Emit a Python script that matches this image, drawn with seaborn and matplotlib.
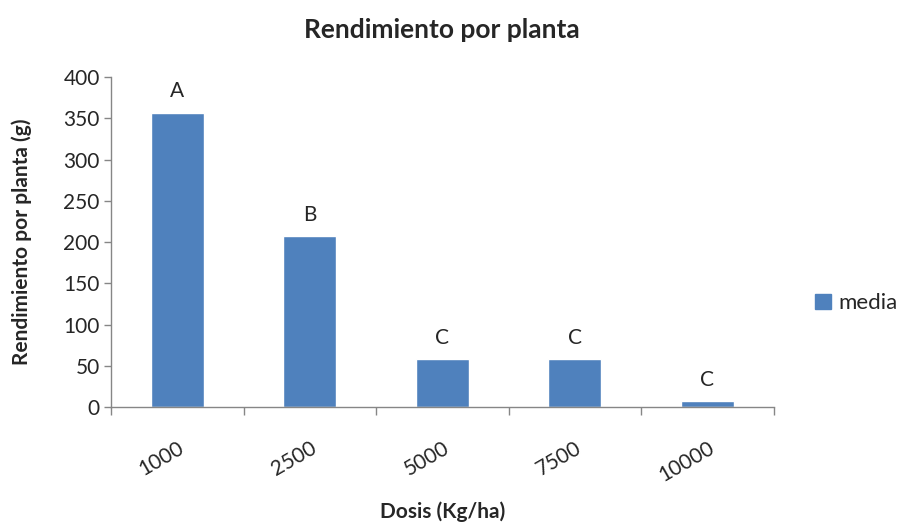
import numpy as np
import pandas as pd
import matplotlib
matplotlib.use("Agg")
import matplotlib.pyplot as plt
import seaborn as sns
from matplotlib.patches import Patch

# Data
dosis = ["1000", "2500", "5000", "7500", "10000"]
media = [357, 207, 58, 58, 7]
letras = ["A", "B", "C", "C", "C"]

df = pd.DataFrame({"dosis": dosis, "media": media})

sns.set_style("white")
plt.rcParams["font.family"] = ["Lato", "DejaVu Sans"]

bar_color = "#4F81BD"
axis_color = "#868686"

fig = plt.figure(figsize=(9.06, 5.25), dpi=100)
ax = fig.add_axes([0.1225, 0.2248, 0.7315, 0.6282])

sns.barplot(data=df, x="dosis", y="media", color=bar_color, saturation=1,
            width=0.4, ax=ax)

# letters above bars
for i, (v, l) in enumerate(zip(media, letras)):
    ax.text(i, v + 14, l, ha="center", va="bottom", fontsize=15)

ax.set_ylim(0, 400)
ax.set_xlim(-0.5, 4.5)
ax.set_yticks(np.arange(0, 401, 50))
ax.tick_params(axis="y", labelsize=15, length=5, width=1, color=axis_color,
               direction="out", left=True, pad=3)

# x ticks at category boundaries
ax.set_xticks(range(len(dosis)))
ax.set_xticklabels(dosis, rotation=30, ha="right", rotation_mode="anchor",
                   fontsize=15)
ax.tick_params(axis="x", which="major", length=0, pad=22)
ax.set_xticks(np.arange(-0.5, 5, 1), minor=True)
ax.tick_params(axis="x", which="minor", length=6, width=1, color=axis_color,
               direction="out", bottom=True)

for side in ["top", "right"]:
    ax.spines[side].set_visible(False)
for side in ["left", "bottom"]:
    ax.spines[side].set_color(axis_color)
    ax.spines[side].set_linewidth(1)

ax.set_xlabel("Dosis (Kg/ha)", fontsize=15, fontweight="bold", va="center")
ax.xaxis.set_label_coords(0.5, -0.318)
ax.set_ylabel("Rendimiento por planta (g)", fontsize=15, fontweight="bold",
              va="center")
ax.yaxis.set_label_coords(-0.134, 0.5)
ax.set_title("Rendimiento por planta", fontsize=19, fontweight="bold", pad=28)

handle = Patch(facecolor=bar_color, edgecolor=bar_color)
fig.legend([handle], ["media"], loc="center left",
           bbox_to_anchor=(0.9, 0.422), frameon=False, fontsize=16,
           handlelength=0.7, handleheight=0.7, handletextpad=0.35,
           borderpad=0, borderaxespad=0)

fig.savefig("out.png", dpi=100)
